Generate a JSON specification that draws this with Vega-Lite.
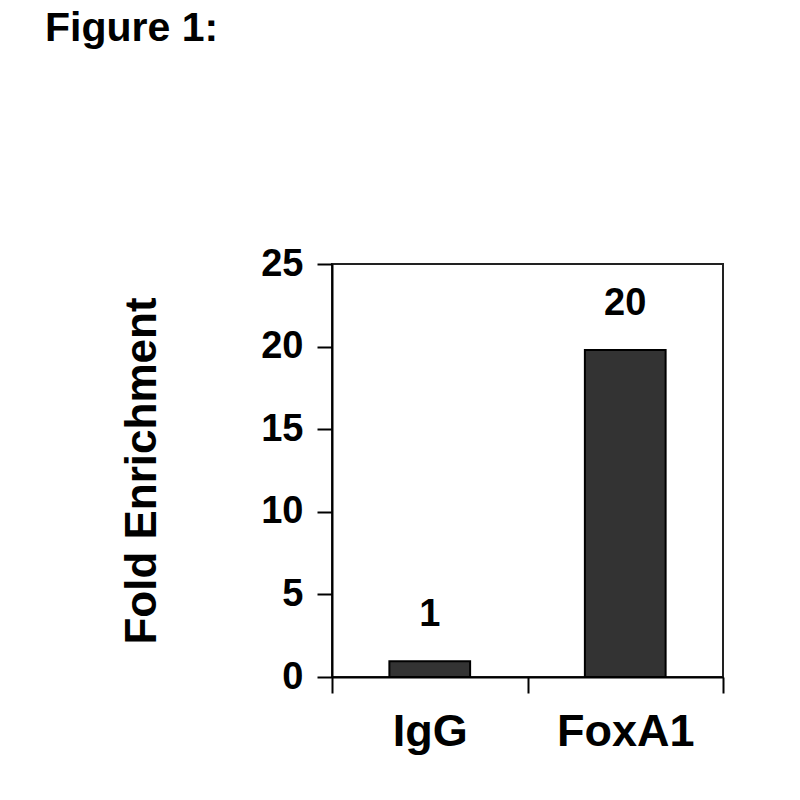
{
  "$schema": "https://vega.github.io/schema/vega-lite/v6.json",
  "width": 391,
  "height": 413,
  "autosize": "none",
  "padding": {"left": 332, "top": 264, "right": 77, "bottom": 123},
  "background": "white",
  "config": {
    "view": {"stroke": "#222222", "strokeWidth": 2},
    "font": "Liberation Sans"
  },
  "title": {
    "text": "Figure 1:",
    "anchor": "start",
    "frame": "group",
    "dx": -287,
    "offset": 195,
    "fontSize": 41,
    "fontWeight": "bold",
    "color": "black",
    "font": "Liberation Sans"
  },
  "data": {
    "values": [
      {"sample": "IgG", "enrichment": 0.95, "label": "1"},
      {"sample": "FoxA1", "enrichment": 19.8, "label": "20"}
    ]
  },
  "encoding": {
    "x": {
      "field": "sample",
      "type": "nominal",
      "sort": null,
      "scale": {"paddingInner": 0, "paddingOuter": 0},
      "axis": {
        "title": null,
        "labelAngle": 0,
        "tickBand": "extent",
        "tickSize": 16,
        "tickWidth": 2,
        "tickColor": "black",
        "domainColor": "black",
        "domainWidth": 2,
        "labelFontSize": 45,
        "labelFontWeight": "bold",
        "labelColor": "black",
        "labelPadding": 16
      }
    },
    "y": {
      "field": "enrichment",
      "type": "quantitative",
      "scale": {"domain": [0, 25], "nice": false},
      "axis": {
        "values": [0, 5, 10, 15, 20, 25],
        "grid": false,
        "tickSize": 15,
        "tickWidth": 2,
        "tickColor": "black",
        "domainColor": "black",
        "domainWidth": 2,
        "labelFontSize": 38,
        "labelFontWeight": "bold",
        "labelColor": "black",
        "labelPadding": 14,
        "title": "Fold Enrichment",
        "titleFontSize": 44,
        "titleFontWeight": "bold",
        "titleColor": "black",
        "titlePadding": 96
      }
    }
  },
  "layer": [
    {
      "mark": {
        "type": "bar",
        "width": {"band": 0.413},
        "fill": "#333333",
        "stroke": "black",
        "strokeWidth": 2
      }
    },
    {
      "mark": {
        "type": "text",
        "dy": -27,
        "baseline": "bottom",
        "fontSize": 38,
        "fontWeight": "bold",
        "color": "black"
      },
      "encoding": {"text": {"field": "label"}}
    }
  ]
}
